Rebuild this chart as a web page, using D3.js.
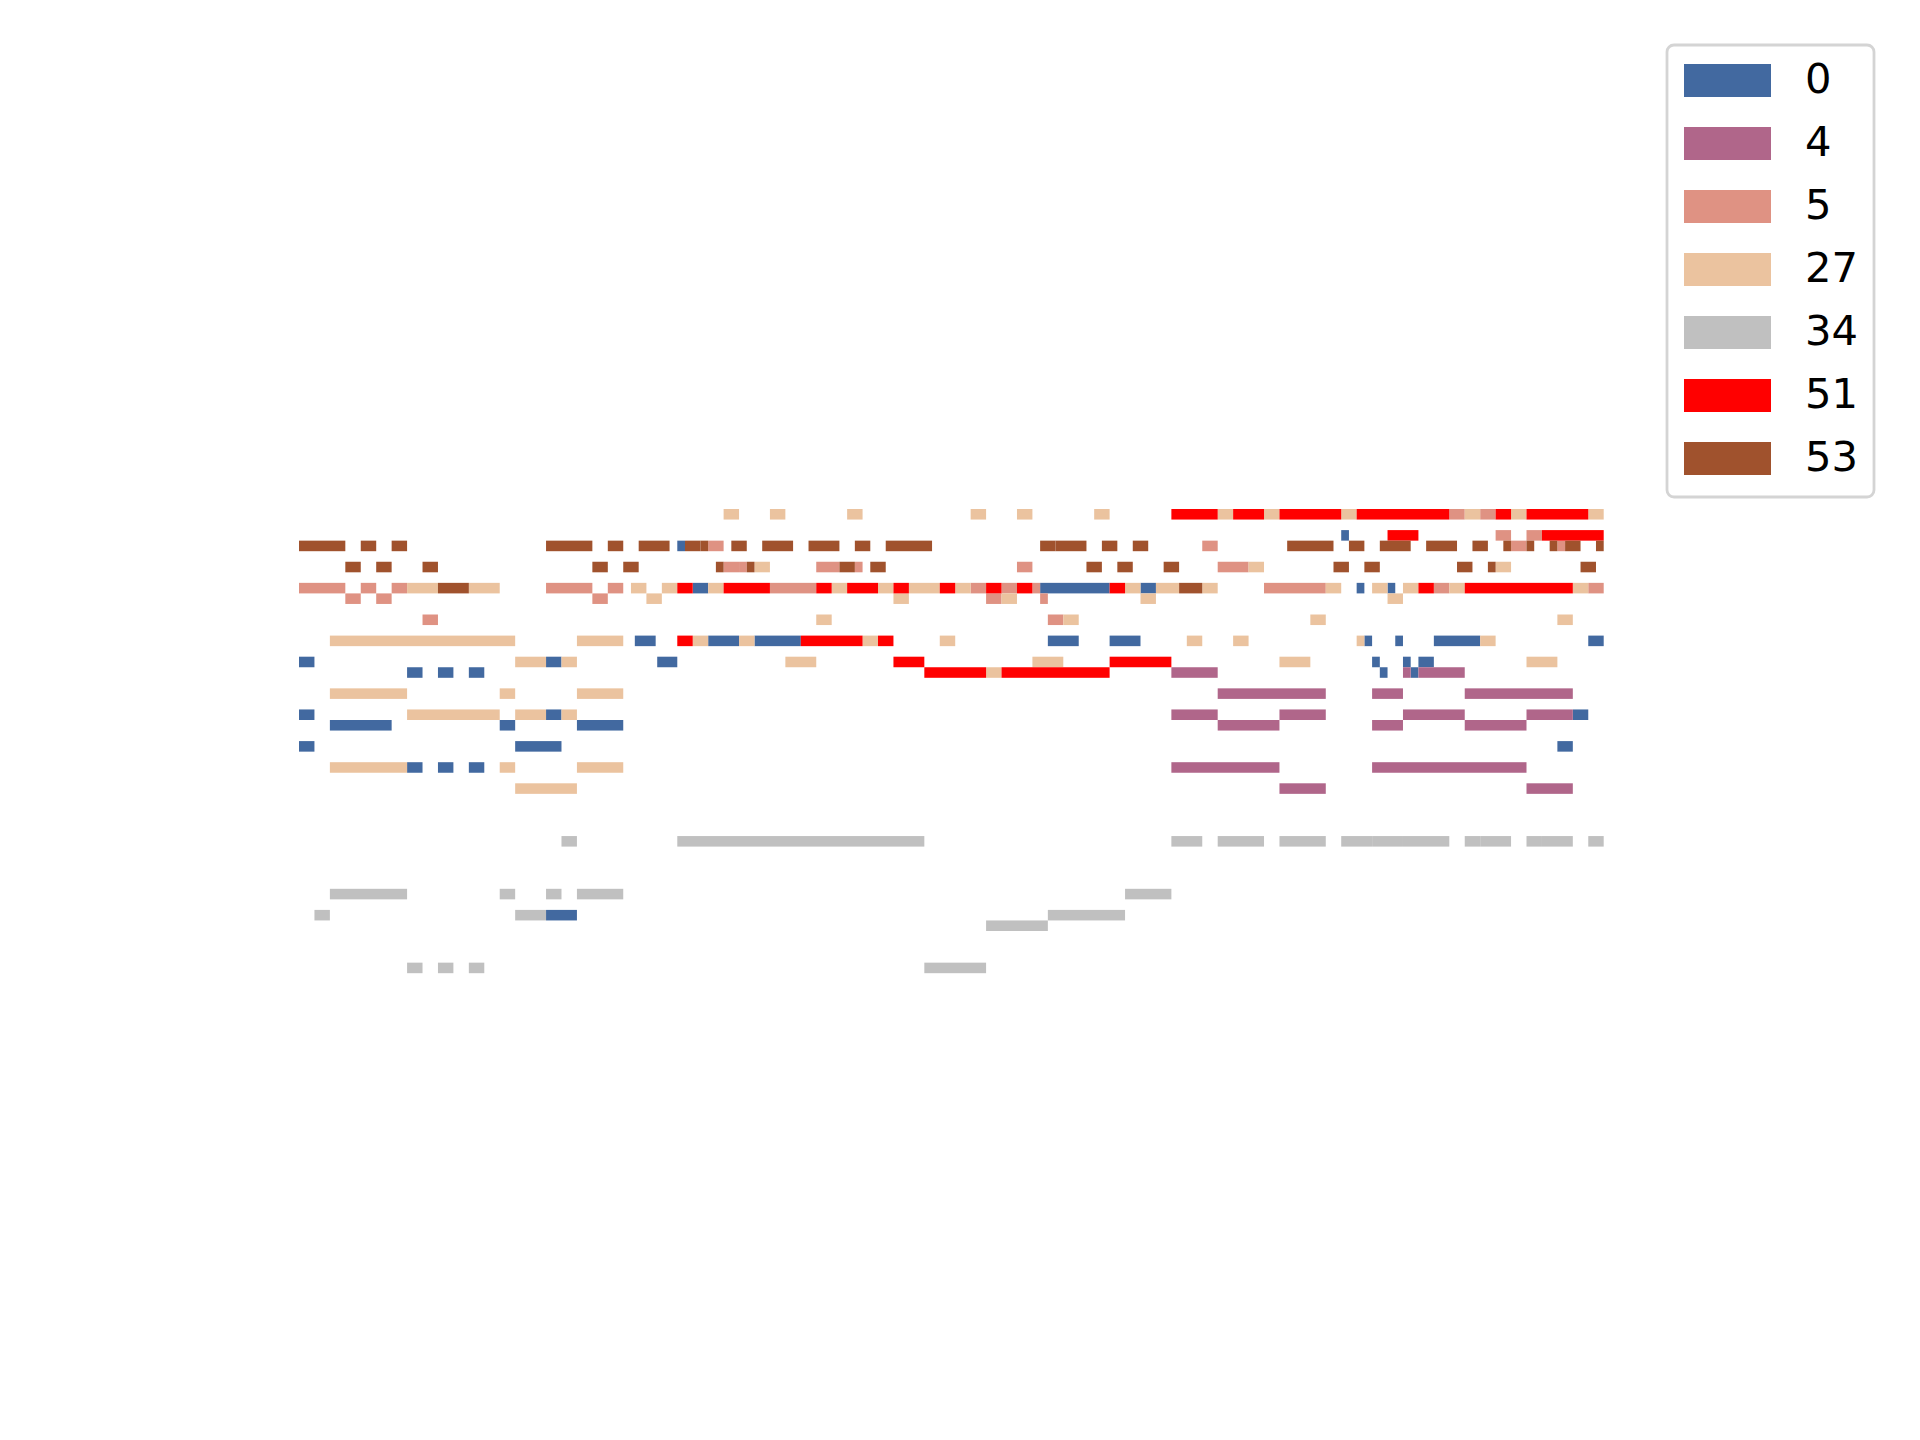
<!DOCTYPE html>
<html>
<head>
<meta charset="utf-8">
<script src="https://cdn.jsdelivr.net/npm/d3@7"></script>
<style>
  html, body { margin: 0; padding: 0; background: #ffffff; }
  svg { display: block; }
</style>
</head>
<body>
<svg id="chart" width="1920" height="1440"></svg>
<script>
// Instrument (MIDI program) labels and colours
const programs = ["0", "4", "5", "27", "34", "51", "53"];
const programColors = ["#4269a0", "#b0668a", "#df9283", "#ebc39f", "#c0c0c0", "#ff0000", "#a0522d"];

// Notes: [start, end, pitch]  (time in beats)
const notes0 = [
  [24.5,25,76],[67.5,68,77],
  [25.5,26.5,72],[48,52.5,72],[54.5,55.5,72],[68.5,69,72],[70.5,71,72],
  [21.75,23.1,67],[26.5,28.5,67],[29.5,32.5,67],[48.5,50.5,67],[52.5,54.5,67],[69,69.5,67],[71,71.5,67],[73.5,76.5,67],[83.5,84.5,67],
  [0,1,65],[16,17,65],[23.2,24.5,65],[69.5,70,65],[71.5,72,65],[72.5,73.5,65],
  [7,8,64],[9,10,64],[11,12,64],[70,70.5,64],[72,72.5,64],
  [0,1,60],[16,17,60],[82.5,83.5,60],
  [2,6,59],[13,14,59],[18,21,59],
  [0,1,57],[14,17,57],[81.5,82.5,57],
  [7,8,55],[9,10,55],[11,12,55],
  [16,18,41]
];
const notes4 = [
  [56.5,59.5,64],[71.5,72,64],[72.5,75.5,64],
  [59.5,66.5,62],[69.5,71.5,62],[75.5,82.5,62],
  [56.5,59.5,60],[63.5,66.5,60],[71.5,75.5,60],[79.5,82.5,60],
  [59.5,63.5,59],[69.5,71.5,59],[75.5,79.5,59],
  [56.5,63.5,55],[69.5,79.5,55],
  [63.5,66.5,53],[79.5,82.5,53]
];
const notes5 = [
  [74.5,75.5,79],[76.5,77.5,79],
  [77.5,78.5,77],[79.5,80.5,77],
  [26.5,27.5,76],[58.5,59.5,76],[78.5,79.5,76],[81.5,82,76],
  [27.5,28.5,74],[28.5,29,74],[33.5,35,74],[36,36.5,74],[46.5,47.5,74],[59.5,61.5,74],
  [0,3,72],[4,5,72],[6,7,72],[16,19,72],[20,21,72],[30.5,33.5,72],[43.5,44.5,72],[45.5,46.5,72],[47.5,48,72],[62.5,66.5,72],[73.5,74.5,72],[83.5,84.5,72],
  [3,4,71],[5,6,71],[19,20,71],[44.5,45.5,71],[48,48.5,71],
  [8,9,69],[48.5,49.5,69]
];
const notes27 = [
  [27.5,28.5,79],[30.5,31.5,79],[35.5,36.5,79],[43.5,44.5,79],[46.5,47.5,79],[51.5,52.5,79],[59.5,60.5,79],[62.5,63.5,79],[67.5,68.5,79],[75.5,76.5,79],[78.5,79.5,79],[83.5,84.5,79],
  [29.5,30.5,74],[61.5,62.5,74],[77.5,78.5,74],
  [7,9,72],[11,13,72],[21.5,22.5,72],[23.5,24.5,72],[26.5,27.5,72],[34.5,35.5,72],[37.5,38.5,72],[39.5,41.5,72],[42.5,43.5,72],[53.5,54.5,72],[55.5,57,72],[58.5,59.5,72],[66.5,67.5,72],[69.5,70.5,72],[71.5,72.5,72],[74.5,75.5,72],[82.5,83.5,72],
  [22.5,23.5,71],[38.5,39.5,71],[45.5,46.5,71],[54.5,55.5,71],[70.5,71.5,71],
  [33.5,34.5,69],[49.5,50.5,69],[65.5,66.5,69],[81.5,82.5,69],
  [2,14,67],[18,21,67],[25.5,26.5,67],[28.5,29.5,67],[36.5,37.5,67],[41.5,42.5,67],[57.5,58.5,67],[60.5,61.5,67],[68.5,69,67],[76.5,77.5,67],
  [14,16,65],[17,18,65],[31.5,33.5,65],[47.5,49.5,65],[63.5,65.5,65],[79.5,81.5,65],
  [44.5,45.5,64],
  [2,7,62],[13,14,62],[18,21,62],
  [7,13,60],[14,16,60],[17,18,60],
  [2,7,55],[13,14,55],[18,21,55],
  [14,18,53]
];
const notes34 = [
  [17,18,48],[24.5,40.5,48],[56.5,58.5,48],[59.5,62.5,48],[63.5,66.5,48],[67.5,69.5,48],[69.5,71.5,48],[71.5,74.5,48],[75.5,76.5,48],[76.5,78.5,48],[79.5,80.5,48],[80.5,82.5,48],[83.5,84.5,48],
  [2,7,43],[13,14,43],[16,17,43],[18,21,43],[53.5,56.5,43],
  [1,2,41],[14,16,41],[48.5,53.5,41],
  [44.5,48.5,40],
  [7,8,36],[9,10,36],[11,12,36],[40.5,44.5,36]
];
const notes51 = [
  [56.5,59.5,79],[60.5,62.5,79],[63.5,67.5,79],[68.5,74.5,79],[77.5,78.5,79],[79.5,83.5,79],
  [70.5,72.5,77],[80.5,84.5,77],
  [24.5,25.5,72],[27.5,30.5,72],[33.5,34.5,72],[35.5,37.5,72],[38.5,39.5,72],[41.5,42.5,72],[44.5,45.5,72],[46.5,47.5,72],[52.5,53.5,72],[72.5,73.5,72],[75.5,82.5,72],
  [24.5,25.5,67],[32.5,36.5,67],[37.5,38.5,67],
  [38.5,40.5,65],[52.5,56.5,65],
  [40.5,44.5,64],[45.5,52.5,64]
];
const notes53 = [
  [0,3,76],[4,5,76],[6,7,76],[16,19,76],[20,21,76],[22,24,76],[25,26,76],[26,26.5,76],[28,29,76],[30,32,76],[33,35,76],[36,37,76],[38,41,76],[48,49,76],[49,51,76],[52,53,76],[54,55,76],[64,67,76],[68,69,76],[70,72,76],[73,75,76],[76,77,76],[78,78.5,76],[79.5,80,76],[81,81.5,76],[82,83,76],[84,84.5,76],
  [3,4,74],[5,6,74],[8,9,74],[19,20,74],[21,22,74],[27,27.5,74],[29,29.5,74],[35,36,74],[37,38,74],[51,52,74],[53,54,74],[56,57,74],[67,68,74],[69,70,74],[75,76,74],[77,77.5,74],[83,84,74],
  [9,11,72],[57,58.5,72]
];

const noteSets = [notes0, notes4, notes5, notes27, notes34, notes51, notes53];

const svg = d3.select("#chart");
svg.append("rect").attr("width", 1920).attr("height", 1440).attr("fill", "#ffffff");

const x = d3.scaleLinear().domain([0, 84.5]).range([299, 1603.7]);
const y = d3.scaleLinear().domain([80, 36]).range([509, 509 + 44 * 10.55]);

const plot = svg.append("g");
noteSets.forEach((set, i) => {
  plot.append("g")
    .selectAll("rect")
    .data(set)
    .join("rect")
    .attr("x", d => x(d[0]))
    .attr("width", d => x(d[1]) - x(d[0]))
    .attr("y", d => y(d[2] + 1))
    .attr("height", d => y(d[2]) - y(d[2] + 1))
    .attr("fill", programColors[i]);
});

// Legend
const legend = svg.append("g");
legend.append("rect")
  .attr("x", 1667).attr("y", 45)
  .attr("width", 207).attr("height", 452)
  .attr("rx", 7).attr("ry", 7)
  .attr("fill", "#ffffff")
  .attr("stroke", "#d4d4d4")
  .attr("stroke-width", 2.8);

const ly = d3.scaleBand().domain(programs).range([64, 64 + 63 * 7]);
const items = legend.selectAll("g.item")
  .data(programs)
  .join("g")
  .attr("class", "item")
  .attr("transform", d => `translate(0,${ly(d)})`);
items.append("rect")
  .attr("x", 1684).attr("y", 0)
  .attr("width", 87).attr("height", 33)
  .attr("fill", (d, i) => programColors[i]);
items.append("text")
  .attr("x", 1805).attr("y", 29)
  .attr("font-family", "DejaVu Sans, sans-serif")
  .attr("font-size", "41.67px")
  .attr("fill", "#000000")
  .text(d => d);
</script>
</body>
</html>
